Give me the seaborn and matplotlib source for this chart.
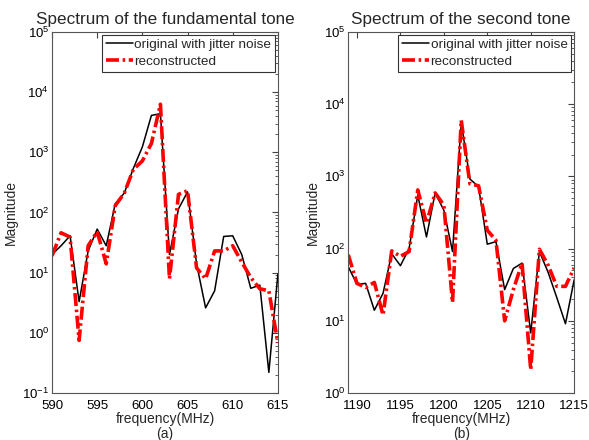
import numpy as np
import pandas as pd
import matplotlib
matplotlib.use("Agg")
import matplotlib.pyplot as plt
import seaborn as sns

# fundamental tone, 590..615 MHz
freq_a = list(range(590, 616))
orig_a = [20, 28, 41, 3.3, 23, 53, 28, 140, 210, 540, 1230, 4100, 4400, 20,
          115, 220, 14, 2.6, 5.0, 40, 41, 20, 5.5, 6.2, 0.22, 9.5]
recon_a = [19, 46, 39, 0.75, 28, 48, 14, 130, 210, 520, 720, 1400, 6300, 7.9,
           200, 230, 12, 7.9, 23, 23, 28, 15, 8.3, 5.4, 5.0, 0.68]

# second tone, 1189..1215 MHz
freq_b = list(range(1189, 1216))
orig_b = [56, 32, 33, 14, 24, 85, 58, 100, 550, 145, 590, 340, 91, 5600,
          920, 720, 115, 125, 27, 53, 63, 6.8, 91, 47, 21, 9.1, 37]
recon_b = [82, 33, 29, 34, 12, 93, 78, 91, 650, 225, 590, 400, 18, 6000,
           790, 740, 180, 130, 10, 27, 63, 2.1, 98, 59, 30, 30, 54]

panels = [
    ("Spectrum of the fundamental tone", freq_a, orig_a, recon_a,
     (590, 615), (1e-1, 1e5), [590, 595, 600, 605, 610, 615], "(a)"),
    ("Spectrum of the second tone", freq_b, orig_b, recon_b,
     (1189, 1215), (1e0, 1e5), [1190, 1195, 1200, 1205, 1210, 1215], "(b)"),
]

sns.set_style("white")
plt.rcParams["font.family"] = ["Liberation Sans", "DejaVu Sans"]
plt.rcParams["mathtext.fontset"] = "custom"
plt.rcParams["mathtext.rm"] = "Liberation Sans"

fig = plt.figure(figsize=(5.89, 4.40), dpi=100)
lefts = [0.0883, 0.5913]

for left, (title, fq, orig, recon, xlim, ylim, xt, cap) in zip(lefts, panels):
    ax = fig.add_axes([left, 0.1068, 0.3835, 0.8205])
    df = pd.DataFrame({"freq": fq, "orig": orig, "recon": recon})
    sns.lineplot(data=df, x="freq", y="orig", ax=ax, color="black", lw=1.1,
                 label="original with jitter noise")
    sns.lineplot(data=df, x="freq", y="recon", ax=ax, color="red", lw=2.6,
                 linestyle=(0, (3.6, 1.0, 0.7, 1.0)), label="reconstructed")
    ax.set_yscale("log")
    ax.set_xlim(*xlim)
    ax.set_ylim(*ylim)
    ax.set_xticks(xt)
    ax.set_title(title, fontsize=12.3, pad=6)
    ax.set_xlabel("frequency(MHz)", fontsize=10, labelpad=0)
    ax.set_ylabel("Magnitude", fontsize=10, labelpad=3)
    ax.tick_params(axis="both", which="both", direction="in", top=True,
                   right=True, labelsize=9.5, colors="#444444",
                   labelcolor="black", pad=2)
    ax.tick_params(axis="x", which="major", pad=5)
    ax.tick_params(axis="both", which="major", length=4)
    ax.tick_params(axis="both", which="minor", length=2)
    for sp in ax.spines.values():
        sp.set_color("#555555")
        sp.set_linewidth(0.8)
    leg = ax.legend(loc="upper right", fontsize=9.7, fancybox=False,
                    framealpha=1, edgecolor="#333333", handlelength=2.0,
                    handletextpad=0.1, borderaxespad=0.2, borderpad=0.3,
                    labelspacing=0.3)
    leg.get_frame().set_linewidth(0.8)
    ax.text(0.5, -0.113, cap, transform=ax.transAxes, ha="center",
            va="center", fontsize=10)

fig.savefig("out.png", dpi=100)
